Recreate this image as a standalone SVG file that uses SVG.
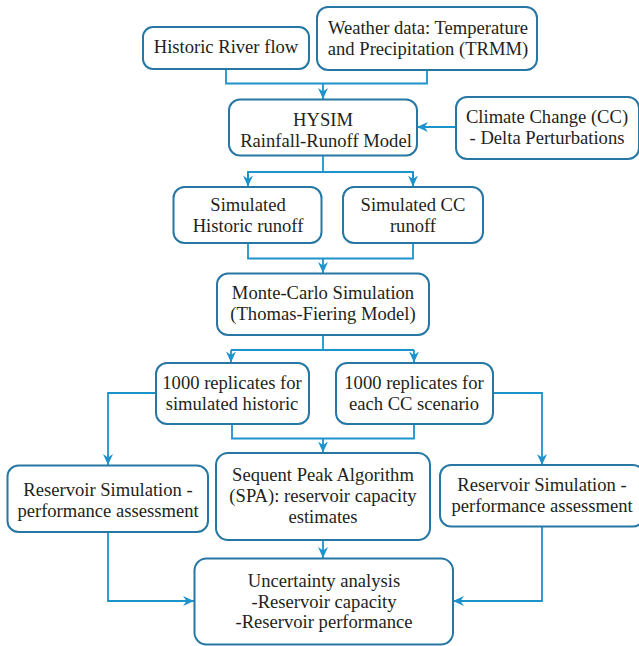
<svg xmlns="http://www.w3.org/2000/svg" width="639" height="646" viewBox="0 0 639 646">
<style>
.box{fill:#fff;stroke:#2677a3;stroke-width:2}
.t{font-family:"Liberation Serif","Times New Roman",serif;font-size:18.6px;fill:#231f20;text-anchor:middle}
.c{fill:none;stroke:#1d93cc;stroke-width:1.8}
</style>
<defs>
<marker id="ar" markerWidth="12" markerHeight="12" viewBox="0 0 12 12" refX="11" refY="6" orient="auto" markerUnits="userSpaceOnUse">
<path d="M0,1 L11,6 L0,11 L3.5,6 z" fill="#1d93cc"/>
</marker>
</defs>
<rect width="639" height="646" fill="#fff"/>
<g id="connectors">
<path class="c" d="M226,69 V83.5 H427 V70"/>
<path class="c" d="M323,83.5 V99" marker-end="url(#ar)"/>
<path class="c" d="M456,127 H417" marker-end="url(#ar)"/>
<path class="c" d="M323,155 V172"/>
<path class="c" d="M248,186 V172 H413 V186"/>
<path class="c" d="M248,172 V186.5" marker-end="url(#ar)"/>
<path class="c" d="M413,172 V186.5" marker-end="url(#ar)"/>
<path class="c" d="M248,243 V258.5 H413 V243"/>
<path class="c" d="M323,258.5 V273" marker-end="url(#ar)"/>
<path class="c" d="M323,335 V350"/>
<path class="c" d="M231,350 H414"/>
<path class="c" d="M231,350 V362.5" marker-end="url(#ar)"/>
<path class="c" d="M414,350 V362.5" marker-end="url(#ar)"/>
<path class="c" d="M156,393 H108 V465" marker-end="url(#ar)"/>
<path class="c" d="M493,393 H542 V465" marker-end="url(#ar)"/>
<path class="c" d="M232,424 V438.5 H414 V424"/>
<path class="c" d="M323,438.5 V452.5" marker-end="url(#ar)"/>
<path class="c" d="M323,540 V558" marker-end="url(#ar)"/>
<path class="c" d="M108,532 V601 H194" marker-end="url(#ar)"/>
<path class="c" d="M542,527 V601 H453" marker-end="url(#ar)"/>
</g>
<g id="historic-river-flow">
<rect class="box" x="143" y="27" width="166" height="42" rx="10"/>
<text class="t" x="226" y="53">Historic River flow</text>
</g>
<g id="weather-data">
<rect class="box" x="317" y="7" width="220" height="63" rx="11"/>
<text class="t" x="428" y="34">Weather data: Temperature</text>
<text class="t" x="428" y="55">and Precipitation (TRMM)</text>
</g>
<g id="hysim">
<rect class="box" x="229" y="99.5" width="188" height="56" rx="11"/>
<text class="t" x="323" y="126">HYSIM</text>
<text class="t" x="326" y="147">Rainfall-Runoff Model</text>
</g>
<g id="climate-change">
<rect class="box" x="456" y="97" width="183" height="62" rx="11"/>
<text class="t" x="547" y="123">Climate Change (CC)</text>
<text class="t" x="547" y="144">- Delta Perturbations</text>
</g>
<g id="sim-historic">
<rect class="box" x="173.5" y="187" width="148" height="56" rx="11"/>
<text class="t" x="248" y="211">Simulated</text>
<text class="t" x="248" y="232">Historic runoff</text>
</g>
<g id="sim-cc">
<rect class="box" x="343" y="187" width="140" height="56" rx="11"/>
<text class="t" x="413" y="211">Simulated CC</text>
<text class="t" x="413" y="232">runoff</text>
</g>
<g id="monte-carlo">
<rect class="box" x="217" y="273.5" width="212" height="61.5" rx="11"/>
<text class="t" x="323" y="299">Monte-Carlo Simulation</text>
<text class="t" x="323" y="320">(Thomas-Fiering Model)</text>
</g>
<g id="rep-historic">
<rect class="box" x="156" y="363" width="153" height="61" rx="11"/>
<text class="t" x="232" y="389">1000 replicates for</text>
<text class="t" x="232" y="410">simulated historic</text>
</g>
<g id="rep-cc">
<rect class="box" x="336" y="363" width="157" height="61" rx="11"/>
<text class="t" x="414" y="389">1000 replicates for</text>
<text class="t" x="414" y="410">each CC scenario</text>
</g>
<g id="reservoir-left">
<rect class="box" x="7.5" y="465.5" width="200.5" height="66.5" rx="11"/>
<text class="t" x="108" y="496">Reservoir Simulation -</text>
<text class="t" x="108" y="517">performance assessment</text>
</g>
<g id="spa">
<rect class="box" x="216" y="453" width="214" height="87" rx="12"/>
<text class="t" x="323" y="481">Sequent Peak Algorithm</text>
<text class="t" x="323" y="502">(SPA): reservoir capacity</text>
<text class="t" x="323" y="523">estimates</text>
</g>
<g id="reservoir-right">
<rect class="box" x="440" y="465" width="204" height="61.5" rx="11"/>
<text class="t" x="542" y="491">Reservoir Simulation -</text>
<text class="t" x="542" y="512">performance assessment</text>
</g>
<g id="uncertainty">
<rect class="box" x="194.5" y="558.5" width="258.5" height="86" rx="12"/>
<text class="t" x="324" y="587">Uncertainty analysis</text>
<text class="t" x="324" y="608">-Reservoir capacity</text>
<text class="t" x="324" y="628">-Reservoir performance</text>
</g>
</svg>
